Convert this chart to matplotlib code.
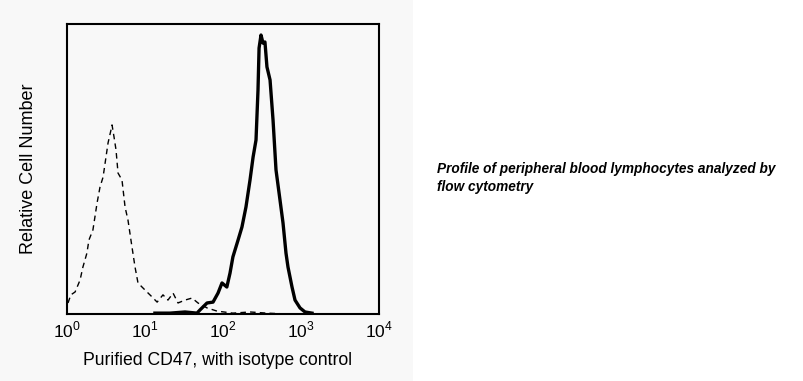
"""
Histograma de citometría: CD47 purificado frente a control de isotipo.
"""
import matplotlib
matplotlib.use("Agg")
import matplotlib.pyplot as plt
from matplotlib.patches import Rectangle

# control de isotipo (línea discontinua): intensidad, número relativo de células
iso_x = [1.03, 1.12, 1.27, 1.47, 1.60, 1.80, 1.91, 2.15, 2.43, 2.65, 2.90, 3.16,
         3.36, 3.66, 3.78, 4.01, 4.25, 4.51, 5.07, 5.55, 6.05, 6.81, 7.45, 8.13,
         9.16, 10.6, 12.3, 14.3, 17.0, 19.7, 22.9, 26.5, 32.6, 40.1, 47.8, 62.4,
         83.8, 134, 222, 366, 662]
iso_y = [3.8, 6.6, 7.6, 11.7, 16.2, 21.0, 25.5, 29.0, 38.3, 43.8, 47.2, 54.1,
         59.0, 63.4, 65.2, 61.0, 56.6, 48.6, 46.2, 36.9, 32.4, 23.1, 16.2, 10.7,
         9.3, 7.6, 5.9, 4.1, 6.6, 4.8, 7.2, 3.8, 4.8, 5.5, 3.8, 2.1,
         1.0, 0.3, 0.7, 0.3, 0.0]

# CD47 (línea continua)
cd47_x = [13.4, 20.9, 32.6, 46.4, 50.7, 62.4, 74.5, 86.3, 97.1, 112, 123, 134,
          156, 175, 197, 222, 243, 265, 281, 290, 307, 326, 345, 366, 401, 438,
          478, 538, 588, 642, 681, 767, 838, 971, 1125, 1384]
cd47_y = [0.3, 0.3, 0.7, 0.3, 1.4, 3.8, 4.1, 7.2, 10.7, 9.3, 14.1, 19.7,
          25.5, 30.0, 36.9, 46.2, 54.1, 60.0, 77.2, 91.7, 96.2, 93.4, 93.8, 85.2,
          80.7, 66.9, 49.7, 39.3, 31.4, 21.0, 16.2, 9.3, 4.8, 2.1, 0.7, 0.3]

ticks = [1, 10, 100, 1000, 10000]
tick_labels = ["$10^0$", "$10^1$", "$10^2$", "$10^3$", "$10^4$"]

plt.rcParams["font.family"] = ["Liberation Sans", "DejaVu Sans"]
plt.rcParams["mathtext.fontset"] = "custom"
plt.rcParams["mathtext.rm"] = "Liberation Sans"

fig = plt.figure(figsize=(8.04, 3.81), dpi=100)
fig.patches.append(Rectangle((0, 0), 413 / 804, 1, transform=fig.transFigure,
                             facecolor="#f8f8f8", edgecolor="none", zorder=-10))

ax = fig.add_axes([67 / 804, 1 - 314 / 381, 312 / 804, 290 / 381])
ax.set_facecolor("#f8f8f8")
ax.plot(iso_x, iso_y, color="black", lw=1.0, ls=(0, (4, 3)))
ax.plot(cd47_x, cd47_y, color="black", lw=2.4)
ax.set_xscale("log")
ax.set_xlim(1, 10000)
ax.set_ylim(0, 100)
ax.set_xticks(ticks)
ax.set_xticklabels(tick_labels, fontsize=12.5)
ax.minorticks_off()
ax.set_yticks([])
ax.tick_params(axis="x", length=0, pad=4)
for s in ax.spines.values():
    s.set_linewidth(1.5)

ax.set_xlabel("Purified CD47, with isotype control", fontsize=12.7, va="center")
ax.xaxis.set_label_coords(0.481, -0.159)
ax.set_ylabel("Relative Cell Number", fontsize=13, va="center")
ax.yaxis.set_label_coords(-0.123, 0.5)

fig.text(437 / 804, 1 - 178 / 381,
         "Profile of peripheral blood lymphocytes analyzed by\nflow cytometry",
         fontsize=9.8, fontweight="bold", fontstyle="italic", va="center",
         linespacing=1.3)

fig.savefig("out.png", dpi=100)
